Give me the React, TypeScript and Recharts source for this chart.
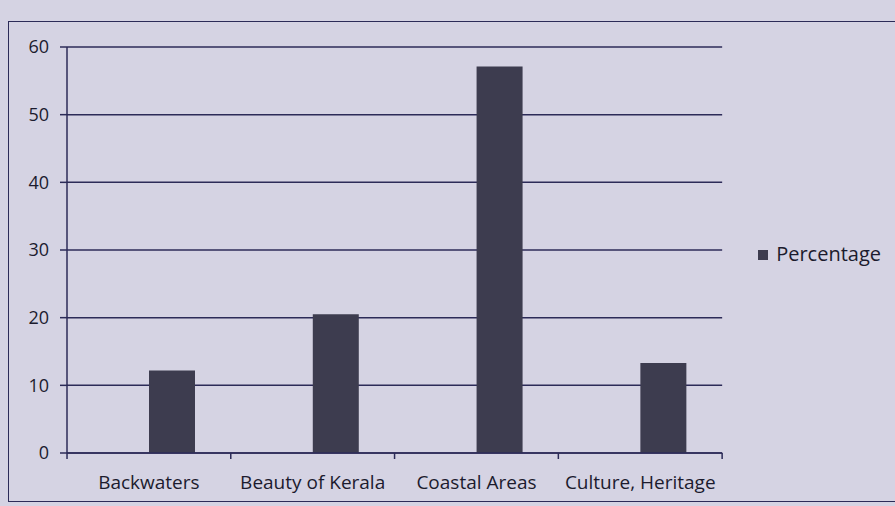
import { BarChart, Bar, XAxis, YAxis, CartesianGrid, Legend } from 'recharts';

const categories = ['Backwaters', 'Beauty of Kerala', 'Coastal Areas', 'Culture, Heritage'];
// the sheet had an empty first column, so the bars sit right of centre
const blank: (number | null)[] = [null, null, null, null];
const percentage = [12.2, 20.5, 57.1, 13.3];
const yTicks = [0, 10, 20, 30, 40, 50, 60];

const chartData = categories.map((name, i) => ({ name, blank: blank[i], Percentage: percentage[i] }));

const ink = '#2c2b58';
const font = '"Open Sans", Lato, sans-serif';

// ticks sit between categories, like the Excel original
const CategoryTick = (props: any) => {
  const { x, y, payload, index } = props;
  const band = 655 / categories.length;
  return (
    <g>
      <line x1={x + band / 2} y1={y - 8} x2={x + band / 2} y2={y - 2} stroke={ink} strokeWidth={1.5} />
      {index === 0 && <line x1={x - band / 2} y1={y - 8} x2={x - band / 2} y2={y - 2} stroke={ink} strokeWidth={1.5} />}
      <text x={x} y={y + 28} textAnchor="middle" fill="#1c1b2e" fontSize={19} fontFamily={font}>
        {payload.value}
      </text>
    </g>
  );
};

export default function App() {
  return (
    <div style={{ position: 'fixed', left: 0, top: 0, width: 895, height: 506, background: '#d5d3e3', overflow: 'hidden' }}>
      <div style={{ position: 'absolute', left: 8, top: 21, width: 900, height: 481, border: `1.5px solid ${ink}`, boxSizing: 'border-box' }} />
      <BarChart
        width={895}
        height={506}
        data={chartData}
        margin={{ top: 47, right: 40, bottom: 23, left: 7 }}
        barCategoryGap={36}
        barGap={0}
      >
        <CartesianGrid vertical={false} stroke={ink} strokeWidth={1.5} />
        <XAxis
          dataKey="name"
          axisLine={{ stroke: ink, strokeWidth: 1.5 }}
          tickLine={false}
          tick={<CategoryTick />}
          interval={0}
        />
        <YAxis
          width={60}
          domain={[0, 60]}
          ticks={yTicks}
          axisLine={{ stroke: ink, strokeWidth: 1.5 }}
          tickLine={{ stroke: ink, strokeWidth: 1.5 }}
          tickSize={7}
          tickMargin={11}
          tick={{ fill: '#1c1b2e', fontSize: 18, fontFamily: font }}
        />
        <Legend
          layout="vertical"
          align="right"
          verticalAlign="middle"
          iconType="square"
          iconSize={10}
          wrapperStyle={{ right: 4, fontFamily: font, fontSize: 20 }}
          formatter={(v) => <span style={{ color: '#1c1b2e', marginLeft: 4 }}>{v}</span>}
        />
        <Bar dataKey="blank" fill="#3d3c4f" barSize={46} legendType="none" isAnimationActive={false} />
        <Bar dataKey="Percentage" fill="#3d3c4f" barSize={46} isAnimationActive={false} />
      </BarChart>
    </div>
  );
}
